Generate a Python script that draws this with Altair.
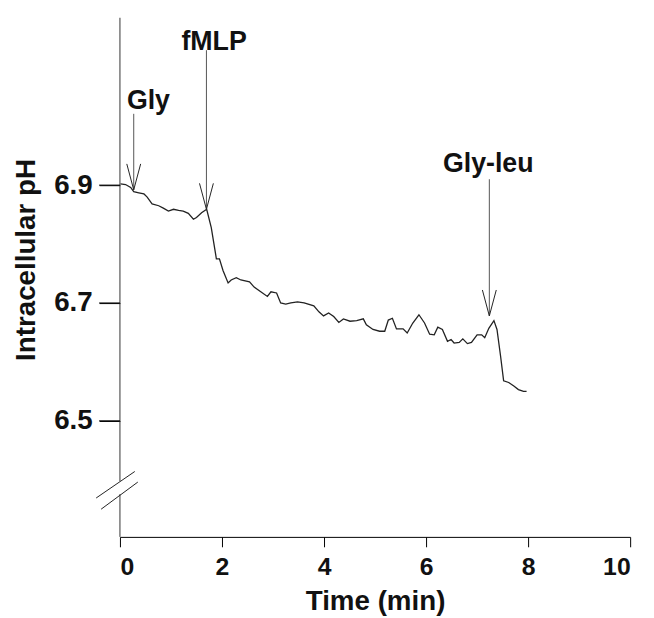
import altair as alt
import pandas as pd

# ---- data ----
time_min = [0.01, 0.11, 0.21, 0.27, 0.37, 0.47, 0.53, 0.63, 0.76, 0.85,
            0.95, 1.05, 1.15, 1.24, 1.34, 1.44, 1.50, 1.60, 1.70, 1.79,
            1.89, 1.95, 2.02, 2.12, 2.18, 2.28, 2.37, 2.54, 2.63, 2.76,
            2.89, 2.96, 3.07, 3.15, 3.25, 3.35, 3.48, 3.61, 3.80, 3.90,
            3.99, 4.09, 4.19, 4.29, 4.38, 4.51, 4.64, 4.77, 4.83, 4.96,
            5.09, 5.19, 5.26, 5.34, 5.42, 5.55, 5.63, 5.74, 5.86, 5.97,
            6.07, 6.16, 6.23, 6.32, 6.42, 6.49, 6.55, 6.65, 6.72, 6.81,
            6.89, 7.00, 7.09, 7.15, 7.23, 7.33, 7.39, 7.46, 7.52, 7.62,
            7.72, 7.81, 7.91, 7.97]
ph = [6.902, 6.901, 6.896, 6.889, 6.887, 6.885, 6.880, 6.868, 6.865, 6.861,
      6.856, 6.859, 6.857, 6.856, 6.852, 6.842, 6.845, 6.853, 6.859, 6.828,
      6.775, 6.775, 6.755, 6.734, 6.739, 6.743, 6.739, 6.736, 6.727, 6.719,
      6.711, 6.719, 6.717, 6.700, 6.698, 6.700, 6.702, 6.700, 6.695, 6.685,
      6.678, 6.683, 6.677, 6.667, 6.673, 6.669, 6.670, 6.673, 6.663, 6.655,
      6.652, 6.652, 6.671, 6.674, 6.656, 6.656, 6.649, 6.666, 6.680, 6.666,
      6.647, 6.646, 6.659, 6.655, 6.635, 6.638, 6.632, 6.633, 6.639, 6.631,
      6.633, 6.646, 6.646, 6.641, 6.657, 6.670, 6.655, 6.610, 6.568, 6.565,
      6.559, 6.553, 6.550, 6.550]

# annotations (arrows)
arrow_label = ["Gly", "fMLP", "Gly-leu"]
arrow_tip_time = [0.27, 1.695, 7.24]
arrow_tip_ph = [6.892, 6.859, 6.678]
arrow_top_ph = [7.021, 7.129, 6.910]
label_time = [0.136, 1.204, 6.33]
label_ph = [7.029, 7.130, 6.922]

x_ticks = [0, 2, 4, 6, 8, 10]
y_ticks = [6.5, 6.7, 6.9]
x_domain = [0, 10]
y_domain = [6.303, 7.184]

# axis-break decoration (in data units)
yaxis_seg_lo = [6.303, 6.3975]
yaxis_seg_hi = [6.3756, 7.184]
break_x1 = [-0.466, -0.369]
break_x2 = [0.291, 0.350]
break_y1 = [6.369, 6.350]
break_y2 = [6.414, 6.396]

HEAD_DX = 0.136
HEAD_DY = 0.044
FONT = "Liberation Sans"
X_TITLE = "Time (min)"
Y_TITLE = "Intracellular pH"

trace = pd.DataFrame({"t": time_min, "pH": ph})
shafts = pd.DataFrame({"t": arrow_tip_time, "pH": arrow_tip_ph,
                       "pH2": arrow_top_ph})
heads_rows = []
for tt, pp in zip(arrow_tip_time, arrow_tip_ph):
    for s in (-1, 1):
        heads_rows.append({"t": tt, "pH": pp, "t2": tt + s * HEAD_DX,
                           "pH2": pp + HEAD_DY})
heads = pd.DataFrame(heads_rows)
labels = pd.DataFrame({"t": label_time, "pH": label_ph, "label": arrow_label})
yaxis_df = pd.DataFrame({"t": [0, 0], "pH": yaxis_seg_lo, "pH2": yaxis_seg_hi})
breaks = pd.DataFrame({"t": break_x1, "t2": break_x2,
                       "pH": break_y1, "pH2": break_y2})
yticks_df = pd.DataFrame({"pH": y_ticks})

xscale = alt.Scale(domain=x_domain, nice=False, zero=False)
yscale = alt.Scale(domain=y_domain, nice=False, zero=False)

xaxis = alt.Axis(values=x_ticks, grid=False, ticks=True,
                 tickSize=10, tickColor="#000", tickWidth=1, domainColor="#000",
                 labelFontSize=25, labelFont=FONT,
                 labelFontWeight="bold", labelColor="#111",
                 labelBaseline="alphabetic", labelPadding=28,
                 titleFontSize=28, titleFont=FONT,
                 titleFontWeight="bold", titleColor="#111",
                 titleBaseline="alphabetic", titleY=73)
yaxis = alt.Axis(values=y_ticks, grid=False, ticks=True,
                 domain=False, tickSize=21, tickColor="#000", tickWidth=1,
                 tickOpacity=1,
                 labelFontSize=28, labelFont=FONT,
                 labelFontWeight="bold", labelColor="#111",
                 labelPadding=7, format=".1f",
                 titleFontSize=28, titleFont=FONT,
                 titleFontWeight="bold", titleColor="#111",
                 titleAngle=-90, titleBaseline="alphabetic",
                 titleX=-86, titleY=244, titleAlign="center")


def X():
    return alt.X("t:Q", scale=xscale, axis=xaxis, title=X_TITLE)


def Y():
    return alt.Y("pH:Q", scale=yscale, axis=yaxis, title=Y_TITLE)


line = alt.Chart(trace).mark_line(color="#222222", strokeWidth=1.3).encode(
    x=X(), y=Y())

shaft_layer = alt.Chart(shafts).mark_rule(color="#555555", strokeWidth=1).encode(
    x=X(), y=Y(), y2="pH2:Q")

head_layer = alt.Chart(heads).mark_rule(color="#222222", strokeWidth=1).encode(
    x=X(), x2="t2:Q", y=Y(), y2="pH2:Q")

label_layer = alt.Chart(labels).mark_text(
    align="left", baseline="alphabetic", font=FONT, fontSize=27,
    fontWeight="bold", color="#111111"
).encode(x=X(), y=Y(), text="label:N")

yaxis_layer = alt.Chart(yaxis_df).mark_rule(color="#333333", strokeWidth=1).encode(
    x=X(), y=Y(), y2="pH2:Q")

break_layer = alt.Chart(breaks).mark_rule(color="#222222", strokeWidth=1).encode(
    x=X(), x2="t2:Q", y=Y(), y2="pH2:Q")

# explicit y tick marks (outward, left of the axis line)
ytick_layer = alt.Chart(yticks_df).mark_rule(color="#000000", strokeWidth=1).encode(
    x=alt.value(-21), x2=alt.value(0), y=Y())

chart = alt.layer(
    line, yaxis_layer, break_layer, ytick_layer, shaft_layer, head_layer,
    label_layer
).properties(
    width=515, height=524,
    autosize=alt.AutoSizeParams(type="none"),
    padding={"left": 113, "top": 7, "right": 16, "bottom": 78},
    background="white",
).configure_view(stroke=None)

chart.save("out.html", embed_options={"renderer": "svg", "actions": False})
